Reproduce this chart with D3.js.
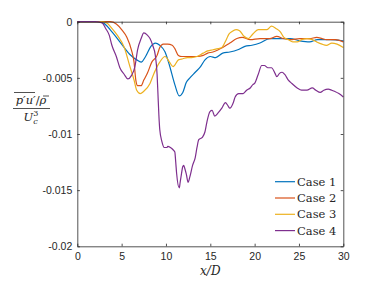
<!DOCTYPE html>
<html lang="en">
<head>
<meta charset="UTF-8">
<title>Pressure work profiles</title>
<script src="https://d3js.org/d3.v7.min.js"></script>
<style>
  body { margin: 0; background: #fff; }
  svg { display: block; }
</style>
</head>
<body>
<svg id="chart"></svg>
<script>
// x/D positions and values, one pair of arrays per case
const case1X = [0, 2.2, 2.9, 3.7, 4.8, 5.9, 6.7, 7.2, 7.7, 8.3, 8.8, 9.3, 9.9, 10.4, 11.0, 11.5, 11.9, 12.3, 12.7, 13.3, 13.9, 14.4, 15.0, 15.6, 16.4, 17.2, 18.1, 18.9, 19.7, 20.6, 21.7, 22.9, 24.0, 25.1, 26.2, 27.1, 28.5, 30];
const case1Y = [0, 0, -0.0001, -0.0007, -0.0018, -0.0029, -0.0034, -0.0036, -0.0031, -0.0022, -0.0019, -0.0021, -0.0027, -0.0039, -0.0056, -0.0066, -0.0063, -0.0054, -0.0050, -0.0045, -0.0040, -0.0034, -0.0031, -0.0032, -0.0028, -0.0027, -0.0025, -0.0022, -0.0021, -0.0019, -0.0015, -0.0015, -0.0015, -0.0017, -0.0018, -0.0016, -0.0016, -0.0017];

const case2X = [0, 3.7, 4.4, 5.0, 5.6, 6.1, 6.4, 6.6, 6.8, 7.2, 7.5, 7.9, 8.4, 9.0, 9.3, 9.7, 10.2, 10.7, 11.0, 11.4, 11.8, 12.4, 13.0, 13.6, 14.2, 14.7, 15.3, 15.9, 16.4, 17.2, 18.0, 18.6, 19.5, 20.6, 21.7, 22.5, 23.2, 24.0, 25.1, 26.2, 27.0, 27.6, 28.1, 29.1, 30];
const case2Y = [0, 0, -0.0002, -0.0007, -0.0014, -0.0025, -0.0036, -0.0052, -0.0057, -0.0057, -0.0052, -0.0046, -0.0036, -0.0030, -0.0023, -0.0020, -0.0020, -0.0021, -0.0024, -0.0030, -0.0031, -0.0031, -0.0031, -0.0031, -0.0030, -0.0028, -0.0027, -0.0025, -0.0023, -0.0019, -0.0015, -0.0014, -0.0016, -0.0015, -0.0015, -0.0013, -0.0015, -0.0016, -0.0015, -0.0015, -0.0014, -0.0015, -0.0016, -0.0016, -0.0018];

const case3X = [0, 2.6, 3.3, 3.9, 4.5, 5.3, 5.9, 6.4, 6.7, 7.1, 7.5, 8.2, 8.6, 9.0, 9.3, 9.9, 10.4, 10.8, 11.4, 11.9, 12.4, 12.9, 13.5, 14.2, 14.7, 15.3, 15.9, 16.3, 16.8, 17.1, 17.4, 17.9, 18.3, 18.8, 19.3, 19.8, 20.4, 20.9, 21.4, 21.9, 22.4, 22.9, 23.3, 23.8, 24.3, 24.8, 25.3, 25.9, 26.5, 27.0, 27.6, 28.1, 28.7, 29.3, 30];
const case3Y = [0, 0, -0.0001, -0.0006, -0.0012, -0.0023, -0.0039, -0.0052, -0.0061, -0.0064, -0.0062, -0.0055, -0.0047, -0.0040, -0.0036, -0.0031, -0.0036, -0.0040, -0.0034, -0.0033, -0.0032, -0.0032, -0.0031, -0.0028, -0.0026, -0.0025, -0.0024, -0.0023, -0.0016, -0.0011, -0.0009, -0.0007, -0.0008, -0.0013, -0.0015, -0.0011, -0.0007, -0.0007, -0.0007, -0.0004, -0.0006, -0.0009, -0.0014, -0.0016, -0.0018, -0.0018, -0.0016, -0.0015, -0.0016, -0.0018, -0.0020, -0.0021, -0.0019, -0.0020, -0.0023];

const case4X = [0, 2.0, 2.8, 3.2, 3.6, 3.9, 4.4, 4.8, 5.3, 5.7, 6.1, 6.5, 6.8, 7.2, 7.5, 7.9, 8.2, 8.5, 8.8, 9.0, 9.1, 9.2, 9.3, 9.55, 9.8, 10.1, 10.2, 10.5, 10.8, 11.0, 11.1, 11.2, 11.5, 11.6, 11.7, 11.9, 12.0, 12.1, 12.3, 12.5, 12.7, 13.0, 13.3, 13.5, 13.7, 14.1, 14.4, 14.6, 14.96, 15.2, 15.5, 15.9, 16.3, 16.7, 17.0, 17.2, 17.6, 17.8, 18.2, 18.7, 19.1, 19.5, 19.8, 20.0, 20.4, 20.8, 21.1, 21.5, 21.9, 22.3, 22.5, 22.8, 23.1, 23.4, 23.8, 24.2, 24.8, 25.3, 25.9, 26.5, 26.9, 27.4, 27.8, 28.3, 28.7, 29.0, 29.5, 30];
const case4Y = [0, 0, -0.0001, -0.0006, -0.0012, -0.0021, -0.0031, -0.0041, -0.0047, -0.0051, -0.0048, -0.0040, -0.0025, -0.0015, -0.0010, -0.0012, -0.0015, -0.0021, -0.0030, -0.0047, -0.0065, -0.0083, -0.0096, -0.0107, -0.0112, -0.0112, -0.0111, -0.0112, -0.0114, -0.0116, -0.0125, -0.0135, -0.0148, -0.0143, -0.0138, -0.0129, -0.0128, -0.0130, -0.0136, -0.0143, -0.0138, -0.0128, -0.0121, -0.0112, -0.0105, -0.0103, -0.0098, -0.0090, -0.0080, -0.0079, -0.0084, -0.0081, -0.0077, -0.0072, -0.0075, -0.0077, -0.0072, -0.0067, -0.0064, -0.0064, -0.0061, -0.0059, -0.0056, -0.0055, -0.0047, -0.0039, -0.0039, -0.0041, -0.0041, -0.0046, -0.0049, -0.0046, -0.0045, -0.0047, -0.0052, -0.0055, -0.0059, -0.0061, -0.0061, -0.0059, -0.0061, -0.0063, -0.0061, -0.0060, -0.0061, -0.0062, -0.0064, -0.0067];

const caseNames = ["Case 1", "Case 2", "Case 3", "Case 4"];
const caseColors = ["#0072BD", "#D95319", "#EDB120", "#7E2F8E"];
const xTicks = [0, 5, 10, 15, 20, 25, 30];
const yTicks = [0, -0.005, -0.01, -0.015, -0.02];
const yTickLabels = ["0", "-0.005", "-0.01", "-0.015", "-0.02"];

const width = 376, height = 282;
const plotL = 77.3, plotR = 343.3, plotT = 21.7, plotB = 246.3;
const axisColor = "#262626";

const svg = d3.select("#chart").attr("width", width).attr("height", height);

const x = d3.scaleLinear().domain([0, 30]).range([plotL, plotR]);
const y = d3.scaleLinear().domain([-0.02, 0]).range([plotB, plotT]);

// curves first, axes box drawn over them
const series = [[case1X, case1Y], [case2X, case2Y], [case3X, case3Y], [case4X, case4Y]];
const line = d3.line().x(d => x(d[0])).y(d => y(d[1])).curve(d3.curveMonotoneX);

series.forEach(([xs, ys], i) => {
    svg.append("path")
        .datum(xs.map((v, k) => [v, ys[k]]))
        .attr("fill", "none")
        .attr("stroke", caseColors[i])
        .attr("stroke-width", 1.2)
        .attr("stroke-linejoin", "round")
        .attr("d", line);
});

// axes: ticks point inward, box on all four sides
const tickLen = 2.6;
const gx = svg.append("g").attr("transform", `translate(0,${plotB})`)
    .call(d3.axisBottom(x).tickValues(xTicks).tickSizeInner(-tickLen).tickSizeOuter(0).tickPadding(6));
const gy = svg.append("g").attr("transform", `translate(${plotL},0)`)
    .call(d3.axisLeft(y).tickValues(yTicks).tickFormat((d, i) => yTickLabels[i]).tickSizeInner(-tickLen).tickSizeOuter(0).tickPadding(5));
const gxTop = svg.append("g").attr("transform", `translate(0,${plotT})`)
    .call(d3.axisTop(x).tickValues(xTicks).tickSizeInner(-tickLen).tickSizeOuter(0).tickFormat(""));
const gyRight = svg.append("g").attr("transform", `translate(${plotR},0)`)
    .call(d3.axisRight(y).tickValues(yTicks).tickSizeInner(-tickLen).tickSizeOuter(0).tickFormat(""));

[gx, gy, gxTop, gyRight].forEach(g => {
    g.select(".domain").attr("stroke", axisColor).attr("stroke-width", 0.8);
    g.selectAll(".tick line").attr("stroke", axisColor).attr("stroke-width", 0.8);
    g.selectAll(".tick text")
        .attr("fill", axisColor)
        .style("font-family", "'Liberation Sans', Arial, sans-serif")
        .style("font-size", "10.5px");
});

// x label
svg.append("text")
    .attr("x", (plotL + plotR) / 2)
    .attr("y", 275)
    .attr("text-anchor", "middle")
    .style("font-family", "'DejaVu Serif', serif")
    .style("font-style", "italic")
    .style("font-size", "12px")
    .attr("fill", axisColor)
    .text("x/D");

// y label as a stacked fraction
const yl = svg.append("g").attr("fill", axisColor)
    .style("font-family", "'DejaVu Serif', serif")
    .style("font-style", "italic")
    .style("font-size", "11.5px");
const num = yl.append("text").attr("x", 31).attr("y", 104).attr("text-anchor", "middle");
num.append("tspan").text("p′u′");
num.append("tspan").style("font-style", "normal").text("/");
num.append("tspan").text("ρ");
yl.append("line").attr("x1", 14).attr("x2", 35).attr("y1", 92.5).attr("y2", 92.5)
    .attr("stroke", axisColor).attr("stroke-width", 0.8);
yl.append("line").attr("x1", 43).attr("x2", 49).attr("y1", 96).attr("y2", 96)
    .attr("stroke", axisColor).attr("stroke-width", 0.8);
yl.append("line").attr("x1", 13).attr("x2", 50).attr("y1", 108.5).attr("y2", 108.5)
    .attr("stroke", axisColor).attr("stroke-width", 0.8);
const den = yl.append("text").attr("x", 31).attr("y", 121).attr("text-anchor", "middle");
den.append("tspan").text("U");
den.append("tspan").attr("dy", 2.5).style("font-size", "8px").text("c");
den.append("tspan").attr("dx", -4.5).attr("dy", -7.5).style("font-size", "8px").style("font-style", "normal").text("3");

// legend, no border
const legend = svg.append("g");
caseNames.forEach((name, i) => {
    const ly = 181.7 + i * 16.3;
    legend.append("line")
        .attr("x1", 275).attr("x2", 295).attr("y1", ly).attr("y2", ly)
        .attr("stroke", caseColors[i]).attr("stroke-width", 1.2);
    legend.append("text")
        .attr("x", 297).attr("y", ly + 4)
        .attr("fill", axisColor)
        .style("font-family", "'DejaVu Serif', serif")
        .style("font-size", "11.5px")
        .text(name);
});
</script>
</body>
</html>
